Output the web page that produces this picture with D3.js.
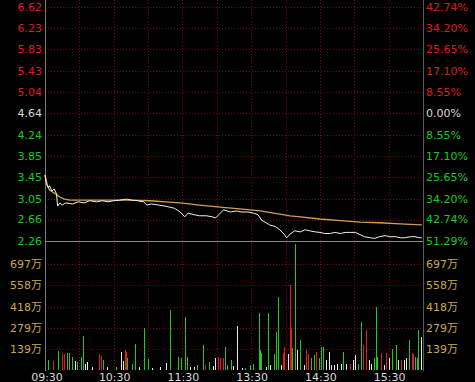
<!DOCTYPE html>
<html><head><meta charset="utf-8">
<script src="https://cdn.jsdelivr.net/npm/d3@7/dist/d3.min.js"></script>
<style>
html,body{margin:0;padding:0;background:#000;overflow:hidden;}
svg{display:block;}
text{font-family:"DejaVu Sans","Noto Sans CJK SC",sans-serif;font-size:11px;}
</style></head>
<body>
<svg id="chart" width="475" height="382"></svg>
<script>
// ---- data ----
const priceTicks = [6.62, 6.23, 5.83, 5.43, 5.04, 4.64, 4.24, 3.85, 3.45, 3.05, 2.66, 2.26];
const pctTicks = ["42.74%","34.20%","25.65%","17.10%","8.55%","0.00%","8.55%","17.10%","25.65%","34.20%","42.74%","51.29%"];
const prevClose = 4.64;
const volTicks = [697, 558, 418, 279, 139];
const volTickLabels = ["697万","558万","418万","279万","139万"];
const timeLabels = ["09:30","10:30","11:30","13:30","14:30","15:30"];
const timeTickMinutes = [0, 60, 120, 180, 240, 300];

const priceMinutes = [0,1,3,4,6,8,10,11,13,15,18,24,29,34,39,45,50,55,60,65,71,76,81,86,89,93,99,105,109,113,118,122,125,130,135,141,146,149,153,156,162,167,172,177,182,186,189,193,196,201,205,209,211,214,218,223,227,231,236,240,244,249,253,258,262,266,271,275,279,284,288,292,297,301,306,310,314,319,323,327,329];
const prices = [3.49,3.34,3.25,3.29,3.19,3.23,3.14,2.91,2.97,2.93,2.97,2.95,2.99,2.97,3.01,2.99,3.01,2.99,3.01,3.02,3.04,3.02,3.01,2.99,2.93,2.95,2.93,2.91,2.89,2.87,2.80,2.71,2.78,2.75,2.73,2.73,2.71,2.69,2.78,2.84,2.80,2.82,2.80,2.80,2.78,2.75,2.65,2.60,2.56,2.53,2.47,2.38,2.32,2.39,2.45,2.43,2.47,2.45,2.43,2.42,2.40,2.40,2.42,2.40,2.42,2.42,2.42,2.38,2.34,2.32,2.31,2.34,2.36,2.34,2.34,2.32,2.32,2.34,2.34,2.32,2.32];

const avgMinutes = [0,2,4,9,13,17,22,39,57,74,92,105,118,135,153,170,188,205,214,223,240,258,275,292,310,329];
const avgPrices = [3.49,3.30,3.21,3.14,3.08,3.04,3.02,3.02,3.02,3.02,3.01,2.99,2.97,2.93,2.89,2.86,2.82,2.76,2.73,2.71,2.67,2.64,2.61,2.60,2.58,2.56];

// volume: minute index, value (万), direction u=up(red) d=down(green) f=flat(white)
const volMinutes = [3,7,11,15,17,19,21,24,26,28,31,33,35,37,41,47,49,51,54,62,66,68,70,71,72,76,79,82,86,90,93,100,106,109,116,119,122,124,127,130,133,138,140,143,147,148,151,153,155,157,159,162,164,168,172,175,179,182,187,188,189,193,195,196,200,202,203,206,208,209,212,214,215,216,218,220,223,226,228,230,232,235,237,239,241,243,245,248,250,252,255,258,260,263,266,269,271,273,276,278,280,283,285,287,289,290,293,296,298,300,303,306,308,311,313,315,318,320,321,323,325,326,328];
const volValues = [66,60,126,113,106,113,113,86,60,53,86,225,40,53,20,106,93,66,20,20,119,60,132,119,79,40,172,20,278,73,15,20,46,397,86,80,351,86,20,20,33,166,30,53,25,79,86,80,80,152,30,66,25,291,15,15,33,40,377,132,113,20,377,33,106,251,483,30,113,152,106,563,278,146,830,132,199,30,132,106,79,99,119,79,152,152,66,119,33,30,40,40,119,40,40,66,99,40,318,166,265,66,40,79,417,86,113,30,113,79,139,166,66,66,66,79,199,113,106,86,79,265,218];
const volDirs = ["d","u","d","u","u","d","d","d","f","d","d","d","f","f","f","u","u","d","f","d","f","f","u","u","d","d","d","f","d","d","f","f","f","d","d","d","d","d","f","f","d","d","u","d","f","f","u","u","u","d","d","d","f","f","f","d","d","d","d","d","d","f","d","f","d","d","d","f","u","u","f","u","u","d","d","f","d","f","u","u","d","d","u","d","d","d","f","f","f","f","f","f","d","f","u","f","f","d","d","u","u","f","f","d","d","d","u","f","u","f","d","d","f","u","f","f","d","u","u","d","d","d","f"];

// ---- layout ----
const svg = d3.select("#chart");
const left = 45, right = 423;
const x = d3.scaleLinear().domain([0, 330]).range([left, right]);
const y = d3.scaleLinear().domain([2.26, 6.62]).range([241, 7]);
const yv = d3.scaleLinear().domain([0, 836.6]).range([370, 243]);

const gridColor = "#7a0a0a";
const red = "#dc1e1e", green = "#1ec81e", white = "#d8d8d8", gold = "#c8a850";

// vertical grid lines (every 30 minutes)
const vGrid = d3.range(30, 330, 30);
svg.append("g").selectAll("line").data(vGrid).join("line")
  .attr("x1", d => Math.round(x(d)) + 0.5).attr("x2", d => Math.round(x(d)) + 0.5)
  .attr("y1", 0).attr("y2", 370)
  .attr("stroke", gridColor).attr("stroke-dasharray", "1,2");

// horizontal price grid lines
svg.append("g").selectAll("line").data(priceTicks.slice(0, -1)).join("line")
  .attr("x1", left).attr("x2", right)
  .attr("y1", d => Math.round(y(d)) + 0.5).attr("y2", d => Math.round(y(d)) + 0.5)
  .attr("stroke", gridColor).attr("stroke-dasharray", "1,2");

// volume grid lines
svg.append("g").selectAll("line").data(volTicks).join("line")
  .attr("x1", left).attr("x2", right)
  .attr("y1", d => Math.round(yv(d)) + 0.5).attr("y2", d => Math.round(yv(d)) + 0.5)
  .attr("stroke", gridColor).attr("stroke-dasharray", "1,2");

// frame lines
svg.append("line").attr("x1", left + 0.5).attr("x2", left + 0.5).attr("y1", 0).attr("y2", 371).attr("stroke", "#7a7a7a");
svg.append("line").attr("x1", right + 0.5).attr("x2", right + 0.5).attr("y1", 0).attr("y2", 371).attr("stroke", "#5a5a5a");
svg.append("line").attr("x1", left).attr("x2", right).attr("y1", Math.round(y(2.26)) + 0.5).attr("y2", Math.round(y(2.26)) + 0.5).attr("stroke", "#8a8a8a");

// left price labels
const colorFor = v => v > prevClose + 1e-9 ? red : (v < prevClose - 1e-9 ? green : white);
svg.append("g").selectAll("text").data(priceTicks).join("text")
  .attr("x", 42).attr("y", d => y(d)).attr("dy", "0.36em")
  .attr("text-anchor", "end").attr("fill", d => colorFor(d))
  .text(d => d.toFixed(2));

// right pct labels
svg.append("g").selectAll("text").data(pctTicks).join("text")
  .attr("x", 426).attr("y", (d, i) => y(priceTicks[i])).attr("dy", "0.36em")
  .attr("text-anchor", "start").attr("fill", (d, i) => colorFor(priceTicks[i]))
  .text(d => d);

// volume labels both sides
svg.append("g").selectAll("text").data(volTicks).join("text")
  .attr("x", 42).attr("y", d => yv(d)).attr("dy", "0.36em")
  .attr("text-anchor", "end").attr("fill", gold)
  .text((d, i) => volTickLabels[i]);
svg.append("g").selectAll("text").data(volTicks).join("text")
  .attr("x", 426).attr("y", d => yv(d)).attr("dy", "0.36em")
  .attr("text-anchor", "start").attr("fill", gold)
  .text((d, i) => volTickLabels[i]);

// time labels
svg.append("g").selectAll("text").data(timeTickMinutes).join("text")
  .attr("x", (d, i) => x(d) + (i === 0 ? 2 : 1)).attr("y", 380.5)
  .attr("text-anchor", "middle").attr("fill", white)
  .text((d, i) => timeLabels[i]);

// volume bars
const vols = volMinutes.map((m, i) => ({m, v: volValues[i], dir: volDirs[i]}));
svg.append("g").attr("shape-rendering", "crispEdges").selectAll("rect").data(vols).join("rect")
  .attr("x", d => Math.round(x(d.m)))
  .attr("width", 1)
  .attr("y", d => yv(d.v))
  .attr("height", d => yv(0) - yv(d.v))
  .attr("fill", d => d.dir === "u" ? red : (d.dir === "d" ? green : "#e8e8e8"));

// average line
const avgData = avgMinutes.map((m, i) => ({m, p: avgPrices[i]}));
svg.append("path").datum(avgData)
  .attr("fill", "none").attr("stroke", "#d0a050").attr("stroke-width", 1.3)
  .attr("d", d3.line().x(d => x(d.m)).y(d => y(d.p)));

// price line
const priceData = priceMinutes.map((m, i) => ({m, p: prices[i]}));
svg.append("path").datum(priceData)
  .attr("fill", "none").attr("stroke", "#f0f0f0").attr("stroke-width", 1)
  .attr("d", d3.line().x(d => x(d.m)).y(d => y(d.p)));
</script>
</body></html>
